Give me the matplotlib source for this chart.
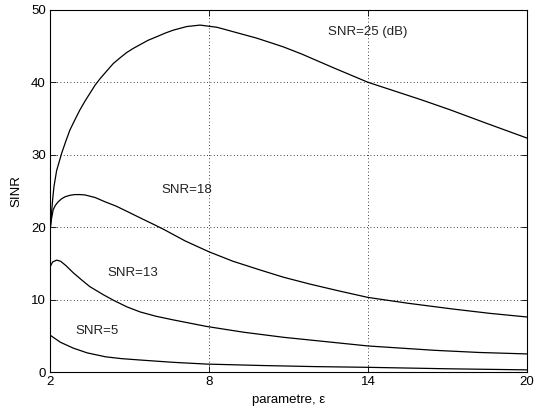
import matplotlib.pyplot as plt

# values
x25 = [2.0, 2.05, 2.1, 2.15, 2.25, 2.44, 2.6, 2.75, 2.95, 3.13, 3.32, 3.51, 3.7, 3.89, 4.15, 4.39,
       4.65, 4.89, 5.15, 5.4, 5.7, 6.03, 6.35, 6.65, 7.16, 7.66, 8.3, 8.9, 9.8, 10.8, 11.5, 12.7,
       14.0, 15.0, 16.0, 17.1, 18.5, 20.0]
y25 = [19.5, 21.6, 23.8, 25.6, 27.8, 30.2, 31.9, 33.4, 34.9, 36.2, 37.4, 38.5, 39.6, 40.5, 41.6, 42.6,
       43.4, 44.1, 44.7, 45.2, 45.8, 46.3, 46.8, 47.2, 47.7, 47.9, 47.6, 47.0, 46.1, 44.9, 43.9, 42.0,
       40.0, 38.8, 37.6, 36.2, 34.3, 32.3]

x18 = [2.0, 2.05, 2.12, 2.2, 2.31, 2.43, 2.57, 2.75, 2.94, 3.13, 3.32, 3.7, 4.08, 4.5, 4.95, 5.45,
       5.96, 6.34, 7.1, 8.0, 8.9, 9.92, 10.8, 11.8, 12.9, 14.0, 15.5, 17.2, 18.6, 20.0]
y18 = [19.4, 21.0, 22.4, 23.0, 23.5, 23.9, 24.2, 24.4, 24.5, 24.5, 24.45, 24.1, 23.5, 22.9, 22.1, 21.2,
       20.3, 19.6, 18.1, 16.6, 15.3, 14.1, 13.1, 12.15, 11.2, 10.3, 9.5, 8.7, 8.1, 7.6]

x13 = [2.0, 2.1, 2.25, 2.4, 2.6, 2.88, 3.2, 3.5, 4.0, 4.4, 4.9, 5.4, 6.0, 6.65, 7.9, 9.3, 10.8, 12.4,
       14.0, 16.5, 18.2, 20.0]
y13 = [14.5, 15.2, 15.45, 15.3, 14.7, 13.7, 12.7, 11.8, 10.7, 9.9, 9.0, 8.3, 7.7, 7.2, 6.3, 5.5, 4.8, 4.2,
       3.6, 3.0, 2.7, 2.5]

x5 = [2.0, 2.2, 2.4, 2.88, 3.4, 4.1, 4.7, 5.4, 6.65, 7.9, 10.0, 12.0, 14.0, 17.0, 20.0]
y5 = [5.1, 4.6, 4.1, 3.3, 2.65, 2.1, 1.85, 1.66, 1.34, 1.1, 0.9, 0.75, 0.65, 0.45, 0.3]

labels = ['SNR=25 (dB)', 'SNR=18', 'SNR=13', 'SNR=5']
label_x = [12.5, 6.2, 4.15, 2.95]
label_y = [47.0, 25.1, 13.7, 5.6]

xticks = [2, 8, 14, 20]
yticks = [0, 10, 20, 30, 40, 50]

plt.rcParams['font.family'] = ['Liberation Sans', 'DejaVu Sans']

fig = plt.figure(figsize=(5.34, 4.12), dpi=100)
ax = fig.add_axes([0.0936, 0.097, 0.8934, 0.879])

for xs, ys in [(x25, y25), (x18, y18), (x13, y13), (x5, y5)]:
    ax.plot(xs, ys, color='black', lw=0.9)

for t, tx, ty in zip(labels, label_x, label_y):
    ax.text(tx, ty, t, fontsize=9.5, va='center', ha='left', color='#222222')

ax.set_xlim(2, 20)
ax.set_ylim(0, 50)
ax.set_xticks(xticks)
ax.set_yticks(yticks)
ax.grid(True, color='black', linestyle=(0, (1, 3)), linewidth=0.6)
ax.tick_params(direction='in', length=4, width=0.6, top=True, right=True, labelsize=9.5, pad=3)
for s in ax.spines.values():
    s.set_linewidth(0.8)

ax.set_xlabel('parametre, ε', fontsize=9.5, labelpad=4)
ax.set_ylabel('SINR', fontsize=9.5, labelpad=6)

fig.savefig('out.png', dpi=100)
